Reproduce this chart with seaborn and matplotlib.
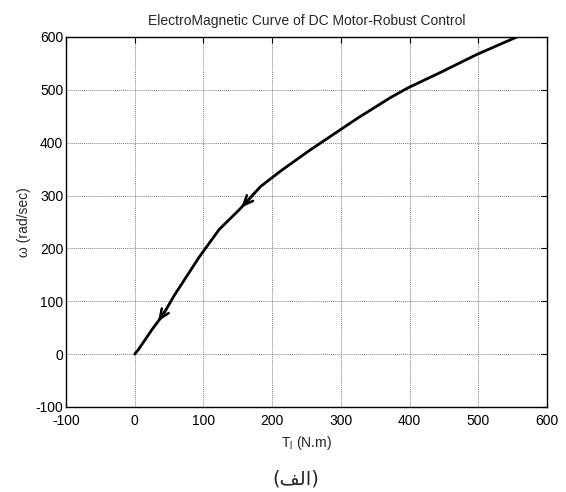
import numpy as np
import pandas as pd
import matplotlib
matplotlib.use("Agg")
import matplotlib.pyplot as plt
import seaborn as sns

# Data
torque = [0, 5, 26, 41, 58, 94, 123, 152, 183, 214, 255, 325, 373, 398, 445, 498, 556]
omega = [0, 8, 48, 74, 112, 184, 236, 273, 317, 348, 386, 447, 486, 504, 533, 567, 600]
arrow_torque = [34, 155]          # arrow tips along the curve
arrow_tail_torque = [46, 175]
x_ticks = [-100, 0, 100, 200, 300, 400, 500, 600]
y_ticks = [-100, 0, 100, 200, 300, 400, 500, 600]
title_text = "ElectroMagnetic Curve of DC Motor-Robust Control"
xlabel_text = "T$_{l}$ (N.m)"
ylabel_text = "\u03c9 (rad/sec)"
caption_text = "(\ufed2\ufedf\ufe8d)"   # "(الف)" in shaped visual order

sns.set_style("white")
plt.rcParams["font.family"] = ["Liberation Sans", "DejaVu Sans"]
plt.rcParams["mathtext.default"] = "regular"

df = pd.DataFrame({"T": torque, "w": omega})

fig = plt.figure(figsize=(5.66, 4.92), dpi=100)
ax = fig.add_axes([66 / 566, 1 - 407 / 492, (547 - 66) / 566, (407 - 37) / 492])

sns.lineplot(data=df, x="T", y="w", sort=False, color="black", linewidth=2.0,
             ax=ax, estimator=None)

for tip, tail in zip(arrow_torque, arrow_tail_torque):
    ytip = np.interp(tip, torque, omega)
    ytail = np.interp(tail, torque, omega)
    ax.annotate("", xy=(tip, ytip), xytext=(tail, ytail),
                arrowprops=dict(arrowstyle="->,head_length=0.7,head_width=0.3",
                                lw=1.8, color="black", shrinkA=0, shrinkB=0))

ax.set_xlim(-100, 600)
ax.set_ylim(-100, 600)
ax.set_xticks(x_ticks)
ax.set_yticks(y_ticks)
ax.set_xticklabels([str(v) for v in x_ticks])
ax.set_yticklabels([str(v) for v in y_ticks])
ax.grid(True, color="0.5", linestyle=(0, (1, 1)), linewidth=0.7)
ax.tick_params(direction="in", length=4, width=0.8, top=True, right=True,
               labelsize=10, colors="black")
ax.tick_params(axis="x", pad=5)
ax.tick_params(axis="y", pad=2)
for s in ax.spines.values():
    s.set_visible(True)
    s.set_color("black")
    s.set_linewidth(1.0)

ax.set_title(title_text, fontsize=10, pad=9)
ax.set_xlabel(xlabel_text, fontsize=10, labelpad=4)
ax.set_ylabel(ylabel_text, fontsize=10, labelpad=3)

fig.text(296 / 566, 1 - 479 / 492, caption_text, ha="center", va="center",
         fontsize=14, family=["DejaVu Sans"])

fig.savefig("out.png", dpi=100)
